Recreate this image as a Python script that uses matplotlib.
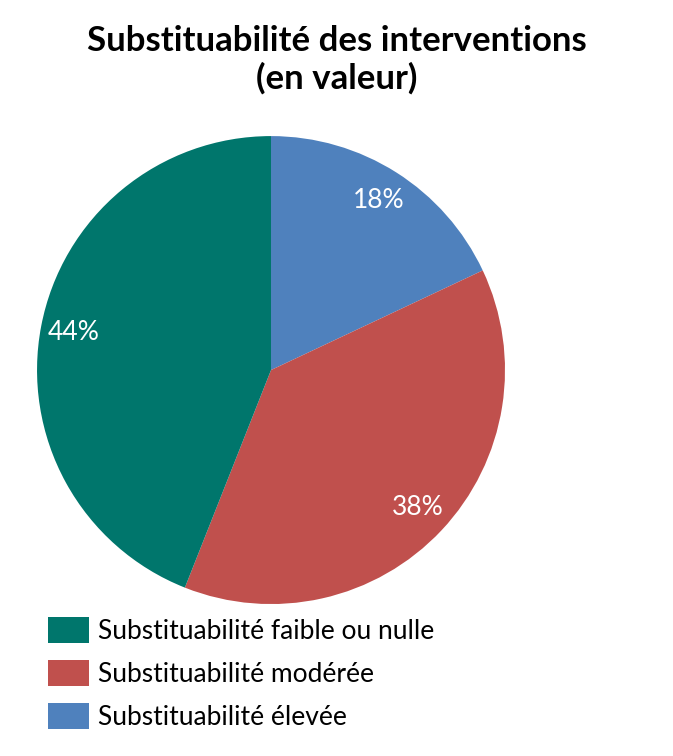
import matplotlib.pyplot as plt
from matplotlib.patches import Patch

# slices in clockwise order starting from the top
labels = ['Substituabilité élevée', 'Substituabilité modérée', 'Substituabilité faible ou nulle']
values = [18, 38, 44]
colors = ['#4F81BD', '#C0504D', '#00766C']

# legend order (top to bottom)
legend_order = [2, 1, 0]

plt.rcParams['font.family'] = ['Lato', 'DejaVu Sans']

fig = plt.figure(figsize=(6.73, 7.56), dpi=100)
ax = fig.add_axes([0.055, 0.201, 0.6954, 0.619])

wedges, texts, autotexts = ax.pie(values, colors=colors, startangle=90, counterclock=False,
                                  autopct='%d%%', pctdistance=0.86,
                                  wedgeprops=dict(linewidth=0))
for t in autotexts:
    t.set_color('white')
    t.set_fontsize(19)
ax.set_xlim(-1, 1)
ax.set_ylim(-1, 1)
ax.set_aspect('equal')

fig.text(0.5, 0.921, 'Substituabilité des interventions\n(en valeur)', ha='center', va='center',
         fontsize=25, fontweight='bold', linespacing=1.22)

handles = [Patch(facecolor=colors[i], label=labels[i]) for i in legend_order]
fig.legend(handles=handles, loc='upper left', bbox_to_anchor=(0.0713, 0.1835),
           frameon=False, fontsize=19, handlelength=1.55, handleheight=1.14,
           handletextpad=0.35, labelspacing=0.6, borderaxespad=0, borderpad=0)

fig.savefig('out.png', dpi=100)
